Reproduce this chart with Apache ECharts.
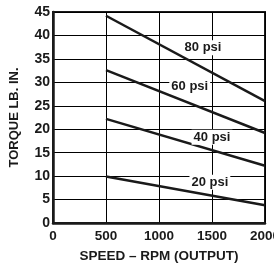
<!DOCTYPE html>
<html>
<head>
<meta charset="utf-8">
<script src="https://cdn.jsdelivr.net/npm/echarts@6/dist/echarts.min.js"></script>
<style>
  html, body { margin: 0; padding: 0; background: #fff; }
  #chart { width: 274px; height: 266px; }
</style>
</head>
<body>
<div id="chart"></div>
<script>
// speed (rpm) vs torque (lb. in.) per supply pressure
var speeds = [500, 2000];
var psi80 = [44.2, 26];
var psi60 = [32.6, 19.2];
var psi40 = [22.2, 12.2];
var psi20 = [9.9, 3.8];
var labels = ['80 psi', '60 psi', '40 psi', '20 psi'];
// where each pressure label sits, in data units
var labelPos = [[1415, 37.4], [1290, 29.2], [1500, 18.3], [1480, 8.7]];

var font = "'Liberation Sans Narrow', 'Arial Narrow', 'Liberation Sans', Arial, sans-serif";
var ink = '#1a1a1a';
var chart = echarts.init(document.getElementById('chart'));

function line(vals, idx) {
  return {
    type: 'line',
    data: speeds.map(function (s, i) { return [s, vals[i]]; }),
    symbol: 'none',
    lineStyle: { color: ink, width: 2.5 },
    markPoint: {
      symbol: 'rect',
      symbolSize: 1,
      itemStyle: { color: 'transparent' },
      label: {
        show: true,
        position: 'inside',
        formatter: labels[idx],
        color: ink,
        fontFamily: font,
        fontWeight: 'bold',
        fontSize: 13,
        backgroundColor: '#fff',
        padding: [1, 2]
      },
      data: [{ coord: labelPos[idx] }]
    }
  };
}

chart.setOption({
  animation: false,
  backgroundColor: '#fff',
  grid: {
    left: 53, top: 12, right: 9, bottom: 43,
    outerBoundsMode: 'none', containLabel: false,
    show: true, borderColor: ink, borderWidth: 2
  },
  xAxis: {
    type: 'value', min: 0, max: 2000, interval: 500,
    name: 'SPEED – RPM (OUTPUT)', nameLocation: 'middle', nameGap: 26,
    nameTextStyle: { color: ink, fontFamily: font, fontWeight: 'bold', fontSize: 13.5 },
    axisLine: { show: true, lineStyle: { color: ink, width: 2.5 } },
    axisTick: { show: false },
    axisLabel: {
      color: ink, fontFamily: font, fontWeight: 'bold', fontSize: 13.5, margin: 6,
      formatter: function (v) { return String(v); }
    },
    splitLine: { show: true, lineStyle: { color: '#000', width: 1 } }
  },
  yAxis: {
    type: 'value', min: 0, max: 45, interval: 5,
    name: 'TORQUE LB. IN.', nameLocation: 'middle', nameGap: 32,
    nameTextStyle: { color: ink, fontFamily: font, fontWeight: 'bold', fontSize: 13 },
    axisLine: { show: true, lineStyle: { color: ink, width: 2.5 } },
    axisTick: { show: false },
    axisLabel: { color: ink, fontFamily: font, fontWeight: 'bold', fontSize: 14, margin: 3 },
    splitLine: { show: true, lineStyle: { color: '#000', width: 1 } }
  },
  series: [line(psi80, 0), line(psi60, 1), line(psi40, 2), line(psi20, 3)]
});
</script>
</body>
</html>
